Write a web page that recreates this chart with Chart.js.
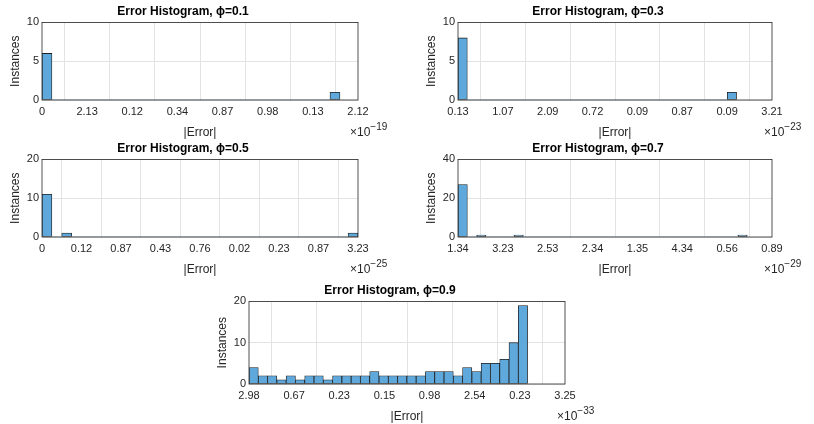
<!DOCTYPE html>
<html>
<head>
<meta charset="utf-8">
<script src="https://cdn.jsdelivr.net/npm/chart.js@4/dist/chart.umd.min.js"></script>
<style>
  body { margin: 0; background: #fff; width: 814px; height: 424px; position: relative; overflow: hidden; }
  .box { position: absolute; }
</style>
</head>
<body>
<div class="box" style="left:0;top:0;width:400px;height:140px"><canvas id="c1"></canvas></div>
<div class="box" style="left:416px;top:0;width:398px;height:140px"><canvas id="c2"></canvas></div>
<div class="box" style="left:0;top:137px;width:400px;height:140px"><canvas id="c3"></canvas></div>
<div class="box" style="left:416px;top:137px;width:398px;height:140px"><canvas id="c4"></canvas></div>
<div class="box" style="left:207px;top:279px;width:400px;height:145px"><canvas id="c5"></canvas></div>
<script>
// phi = 0.1
const ticks1 = ['0', '2.13', '0.12', '0.34', '0.87', '0.98', '0.13', '2.12'];
const counts1 = [6, 0, 0, 0, 0, 0, 0, 0, 0, 0, 0, 0, 0, 0, 0, 0, 0, 0, 0, 0, 0, 0, 0, 0, 0, 0, 0, 0, 0, 1];
// phi = 0.3
const ticks2 = ['0.13', '1.07', '2.09', '0.72', '0.09', '0.87', '0.09', '3.21'];
const counts2 = [8, 0, 0, 0, 0, 0, 0, 0, 0, 0, 0, 0, 0, 0, 0, 0, 0, 0, 0, 0, 0, 0, 0, 0, 0, 0, 0, 0, 0, 1];
// phi = 0.5
const ticks3 = ['0', '0.12', '0.87', '0.43', '0.76', '0.02', '0.23', '0.87', '3.23'];
const counts3 = [11, 0, 1, 0, 0, 0, 0, 0, 0, 0, 0, 0, 0, 0, 0, 0, 0, 0, 0, 0, 0, 0, 0, 0, 0, 0, 0, 0, 0, 0, 0, 1];
// phi = 0.7
const ticks4 = ['1.34', '3.23', '2.53', '2.34', '1.35', '4.34', '0.56', '0.89'];
const counts4 = [27, 0, 1, 0, 0, 0, 1, 0, 0, 0, 0, 0, 0, 0, 0, 0, 0, 0, 0, 0, 0, 0, 0, 0, 0, 0, 0, 0, 0, 0, 1];
// phi = 0.9
const ticks5 = ['2.98', '0.67', '0.23', '0.15', '0.98', '2.54', '0.23', '3.25'];
const counts5 = [4, 2, 2, 1, 2, 1, 2, 2, 1, 2, 2, 2, 2, 3, 2, 2, 2, 2, 2, 3, 3, 3, 2, 4, 3, 5, 5, 6, 10, 19];

const FONT = '"Liberation Sans", Arial, sans-serif';
const TXT = '#262626';

const framePlugin = {
  id: 'frame',
  afterDraw(chart, args, opts) {
    const { ctx, chartArea: a } = chart;
    ctx.save();
    ctx.strokeStyle = '#262626';
    ctx.lineWidth = 0.8;
    ctx.strokeRect(a.left, a.top, a.right - a.left, a.bottom - a.top);
    ctx.fillStyle = TXT;
    ctx.textBaseline = 'alphabetic';
    ctx.textAlign = 'left';
    ctx.font = '12px ' + FONT;
    const x0 = a.right - 8;
    const y = a.bottom + 36;
    ctx.fillText('\u00d710', x0, y);
    const w10 = ctx.measureText('\u00d710').width;
    ctx.font = '10px ' + FONT;
    ctx.fillText(opts.exp, x0 + w10, y - 6);
    ctx.restore();
  }
};

function makeHist(id, phi, ticks, counts, binW, yMax, exp) {
  const data = counts.map((c, i) => ({ x: i * binW + binW / 2, y: c }));
  new Chart(document.getElementById(id), {
    type: 'bar',
    data: {
      datasets: [{
        data: data,
        backgroundColor: '#5fa8dc',
        borderColor: '#1e1e1e',
        borderWidth: (c) => (c.raw && c.raw.y > 0 ? 0.8 : 0),
        borderSkipped: false,
        barPercentage: 1,
        categoryPercentage: 1
      }]
    },
    options: {
      responsive: true,
      maintainAspectRatio: false,
      animation: false,
      layout: { padding: { top: 0, right: 42, left: 8, bottom: 0 } },
      plugins: {
        legend: { display: false },
        tooltip: { enabled: false },
        title: {
          display: true,
          text: 'Error Histogram, \u03d5=' + phi,
          color: '#000',
          font: { family: FONT, size: 12, weight: 'bold' },
          padding: { top: 4, bottom: 4 }
        },
        frame: { exp: exp }
      },
      scales: {
        x: {
          type: 'linear',
          min: 0,
          max: ticks.length - 1,
          offset: false,
          afterBuildTicks: (s) => { s.ticks = ticks.map((t, i) => ({ value: i })); },
          ticks: {
            color: TXT,
            font: { family: FONT, size: 11 },
            maxRotation: 0,
            autoSkip: false,
            padding: 5,
            callback: (v) => ticks[v]
          },
          grid: { color: '#e3e3e3', drawTicks: false },
          border: { display: false },
          title: { display: true, text: '|Error|', color: TXT, font: { family: FONT, size: 12 }, padding: { top: 0, bottom: 0 } },
          afterFit: (s) => { s.height = 40; }
        },
        y: {
          min: 0,
          max: yMax,
          ticks: {
            stepSize: yMax / 2,
            color: TXT,
            font: { family: FONT, size: 11 },
            padding: 3
          },
          grid: { color: '#e3e3e3', drawTicks: false },
          border: { display: false },
          title: { display: true, text: 'Instances', color: TXT, font: { family: FONT, size: 12 }, padding: { top: 0, bottom: 2 } },
          afterFit: (s) => { s.width = 34; }
        }
      }
    },
    plugins: [framePlugin]
  });
}

makeHist('c1', '0.1', ticks1, counts1, 0.22, 10, '\u221219');
makeHist('c2', '0.3', ticks2, counts2, 0.207, 10, '\u221223');
makeHist('c3', '0.5', ticks3, counts3, 0.25, 20, '\u221225');
makeHist('c4', '0.7', ticks4, counts4, 0.208, 40, '\u221229');
makeHist('c5', '0.9', ticks5, counts5, 0.2057, 20, '\u221233');
</script>
</body>
</html>
